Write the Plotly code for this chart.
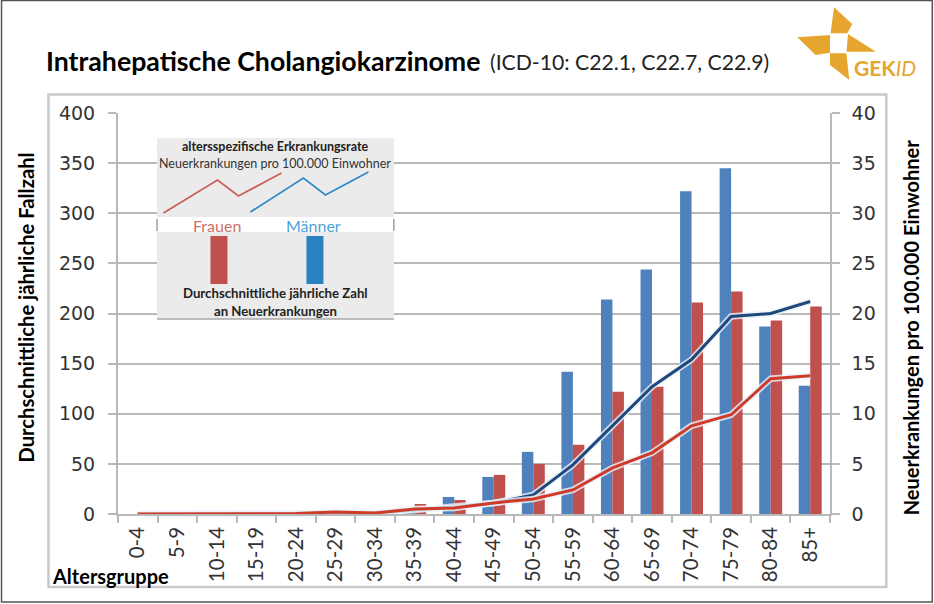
import plotly.graph_objects as go

age_groups = ["0-4","5-9","10-14","15-19","20-24","25-29","30-34","35-39","40-44","45-49","50-54","55-59","60-64","65-69","70-74","75-79","80-84","85+"]
cases_men = [0,0,0,0,1,1,1,5,17,37,62,142,214,244,322,345,187,128]
cases_women = [0,0,0,0,1,2,2,10,14,39,50,69,122,127,211,222,193,207]
rate_men = [0,0,0,0.03,0.05,0.1,0.1,0.4,0.7,1.1,1.9,4.9,8.8,12.7,15.4,19.7,20.0,21.2]
rate_women = [0,0,0,0.03,0.05,0.2,0.1,0.5,0.6,1.1,1.5,2.4,4.6,6.1,8.8,9.9,13.5,13.8]

W, H = 934, 604
L, R, T, B = 117.5, 829.7, 113, 514
def px(x): return (x - L) / (R - L)
def py(y): return (B - y) / (B - T)
def path(pts):
    return "M" + " L".join(f"{px(x):.5f},{py(y):.5f}" for x, y in pts)

GRID = "#b9b9b9"
GOLD = "#e5a52e"
TXT = "#2b2b2b"

fig = go.Figure()
fig.add_bar(x=age_groups, y=cases_men, name="Männer (Fallzahl)", marker=dict(color="#4f81bd", line=dict(width=0)), yaxis="y")
fig.add_bar(x=age_groups, y=cases_women, name="Frauen (Fallzahl)", marker=dict(color="#c0504d", line=dict(width=0)), yaxis="y")
for vals, col, nm in [(rate_men, "#1f497d", "Männer (Rate)"), (rate_women, "#cf3a28", "Frauen (Rate)")]:
    fig.add_scatter(x=age_groups, y=vals, mode="lines", yaxis="y2", hoverinfo="skip", showlegend=False,
                    line=dict(color="rgba(235,242,250,0.8)", width=6.5))
    fig.add_scatter(x=age_groups, y=vals, mode="lines", name=nm, yaxis="y2", line=dict(color=col, width=3))

shapes = []
def rect(x0, y0, x1, y1, fill="rgba(0,0,0,0)", line=None, width=0):
    shapes.append(dict(type="rect", xref="paper", yref="paper", x0=px(x0), x1=px(x1), y0=py(y0), y1=py(y1),
                       fillcolor=fill, line=dict(color=line or "rgba(0,0,0,0)", width=width)))
def poly(pts, color=None, line=None, width=0):
    closed = color is not None
    shapes.append(dict(type="path", xref="paper", yref="paper", path=path(pts) + (" Z" if closed else ""),
                       fillcolor=color or "rgba(0,0,0,0)", line=dict(color=line or "rgba(0,0,0,0)", width=width)))

# outer frames
rect(1, 0.5, 932, 602, line="#555555", width=1.5)
rect(48, 94.5, 886, 587, line="#c9c9c9", width=2.5)
# inset key
rect(156.5, 138, 393.5, 319, fill="#ebebeb")
rect(157, 217, 393, 232, fill="#ffffff")
poly([(156.5, 319), (393.5, 319)], line="#a8a8a8", width=1.5)
poly([(156.5, 219), (156.5, 231)], line="#777777", width=1)
poly([(393.5, 219), (393.5, 231)], line="#777777", width=1)
poly([(163, 213), (217, 180), (238, 196), (281, 173)], line="#c9605c", width=1.8)
poly([(250, 212), (303, 178), (325, 195), (368, 172)], line="#2f8ac8", width=1.8)
rect(210, 236, 227, 284, fill="#c0504d")
rect(306, 236, 323, 284, fill="#2a80c0")
# logo
poly([(833.7, 7.3), (852, 24), (847, 33.3), (830.3, 33.3)], color=GOLD)
poly([(797, 37.3), (829.7, 35), (829.7, 52.7), (815.3, 55)], color=GOLD)
poly([(847.7, 34), (875.7, 51.7), (846.3, 51.7)], color=GOLD)
poly([(829.7, 53.3), (846, 53.3), (849, 80), (829.7, 65)], color=GOLD)

def note(x, y, text, size, color=TXT, bold=False, anchor="center", family="Lato", angle=0):
    fig.add_annotation(xref="paper", yref="paper", x=px(x), y=py(y), text=f"<b>{text}</b>" if bold else text,
                       showarrow=False, xanchor=anchor, yanchor="middle", textangle=angle,
                       font=dict(family=family, size=size, color=color))

note(43, 61, "Intrahepatische Cholangiokarzinome", 26.7, "#000000", True, "left")
note(488, 62, "(ICD-10: C22.1, C22.7, C22.9)", 21.2, "#222222", False, "left")
note(275, 146, "altersspezifische Erkrankungsrate", 12.5, "#222222", True)
note(275, 163, "Neuerkrankungen pro 100.000 Einwohner", 12.5, "#333333")
note(217, 225, "Frauen", 16, "#cf6f6b")
note(313, 225, "Männer", 16, "#4f9fd8")
note(275, 293, "Durchschnittliche jährliche Zahl", 13.2, "#222222", True)
note(275, 311, "an Neuerkrankungen", 13.2, "#222222", True)
note(49, 576, "Altersgruppe", 20, "#000000", True, "left")
note(852, 67, "<b>GEK</b><i>ID</i>", 21, GOLD, False, "left")
note(25, 308, "Durchschnittliche jährliche Fallzahl", 20.2, "#000000", True, angle=-90)
note(911, 327, "Neuerkrankungen pro 100.000 Einwohner", 20, "#000000", True, angle=-90)

fig.update_layout(
    width=W, height=H, autosize=False,
    margin=dict(l=L, r=W - R, t=T, b=H - B, autoexpand=False),
    paper_bgcolor="white", plot_bgcolor="white",
    barmode="group", bargap=0.42, bargroupgap=0, showlegend=False,
    shapes=shapes, font=dict(family="Lato", color=TXT),
    xaxis=dict(type="category", categoryorder="array", categoryarray=age_groups, tickangle=-90, tickson="boundaries",
               ticks="outside", ticklen=7, tickcolor=GRID, tickwidth=1.5,
               showline=True, linecolor=GRID, linewidth=1.5, showgrid=False,
               tickfont=dict(family="Lato", size=20.5, color="#333333"), ticklabelstandoff=3),
    yaxis=dict(range=[0, 400], dtick=50, ticks="outside", ticklen=8, tickcolor=GRID, tickwidth=1.5,
               showline=True, linecolor=GRID, linewidth=2, gridcolor=GRID, gridwidth=1.5, zeroline=False,
               tickfont=dict(family="DejaVu Sans", size=19, color="#333333"), ticklabelstandoff=9),
    yaxis2=dict(range=[0, 40], dtick=5, overlaying="y", side="right", ticks="outside", ticklen=8,
                tickcolor=GRID, tickwidth=1.5, showline=True, linecolor=GRID, linewidth=1.5,
                showgrid=False, zeroline=False,
                tickfont=dict(family="DejaVu Sans", size=19, color="#333333"), ticklabelstandoff=8),
)
fig.write_html("out.html", config=dict(displayModeBar=False),
               post_script="document.body.style.margin='0';document.documentElement.style.overflow='hidden';")
